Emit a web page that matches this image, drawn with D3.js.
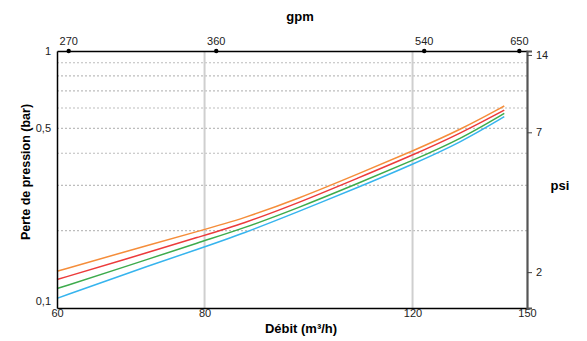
<!DOCTYPE html>
<html>
<head>
<meta charset="utf-8">
<script src="https://cdn.jsdelivr.net/npm/d3@7"></script>
<style>
  body { margin: 0; background: #fff; }
  svg { font-family: "Liberation Sans", Arial, sans-serif; }
</style>
</head>
<body>
<svg width="587" height="341"></svg>
<script>
// debit en m3/h, perte de pression en bar
var flow = [60, 68, 80, 86, 96, 108, 120, 132, 143.5];
var seriesOrange = [0.139, 0.164, 0.202, 0.222, 0.266, 0.333, 0.408, 0.496, 0.611];
var seriesRed    = [0.129, 0.153, 0.192, 0.212, 0.256, 0.321, 0.393, 0.480, 0.589];
var seriesGreen  = [0.119, 0.143, 0.183, 0.203, 0.245, 0.306, 0.375, 0.456, 0.572];
var seriesBlue   = [0.109, 0.134, 0.173, 0.194, 0.237, 0.295, 0.362, 0.442, 0.555];

var xTicks = [60, 80, 120, 150];
var gpmTicks = [270, 360, 540, 650];
var yTicks = [0.1, 0.5, 1];
var yGrid = [0.2, 0.3, 0.4, 0.5, 0.6, 0.7, 0.8, 0.9];
var psiTicks = [2, 7, 14];

var M3H_TO_GPM = 4.4029;
var BAR_TO_PSI = 14.5038;

var svg = d3.select('svg');
var plotL = 57, plotR = 527, plotT = 51, plotB = 308;

var x = d3.scaleLog().domain([60, 150]).range([plotL, plotR]);
var xGpm = d3.scaleLog().domain([60 * M3H_TO_GPM, 150 * M3H_TO_GPM]).range([plotL, plotR]);
var y = d3.scaleLog().domain([0.1, 1]).range([plotB, plotT]);
var yPsi = d3.scaleLog().domain([0.1 * BAR_TO_PSI, BAR_TO_PSI]).range([plotB, plotT]);

// grille horizontale pointillee
svg.append('g').selectAll('line')
    .data(yGrid)
    .enter().append('line')
    .attr('x1', plotL).attr('x2', plotR)
    .attr('y1', d => y(d)).attr('y2', d => y(d))
    .attr('stroke', '#bdbdbd')
    .attr('stroke-width', 1.2)
    .attr('stroke-dasharray', '2,2');

// grille verticale
svg.append('g').selectAll('line')
    .data([80, 120])
    .enter().append('line')
    .attr('x1', d => x(d)).attr('x2', d => x(d))
    .attr('y1', plotT).attr('y2', plotB)
    .attr('stroke', '#cfcfcf')
    .attr('stroke-width', 2);

// courbes
var series = [
    {values: seriesOrange, color: '#f58d3a'},
    {values: seriesRed, color: '#ec3b3b'},
    {values: seriesGreen, color: '#3dab4c'},
    {values: seriesBlue, color: '#36b4ee'}
];

var line = d3.line()
    .x(d => x(d[0]))
    .y(d => y(d[1]))
    .curve(d3.curveBasis);

svg.append('g').selectAll('path')
    .data(series)
    .enter().append('path')
    .attr('d', s => line(flow.map((q, i) => [q, s.values[i]])))
    .attr('fill', 'none')
    .attr('stroke', s => s.color)
    .attr('stroke-width', 1.5);

// axe du bas
var xAxis = svg.append('g')
    .attr('transform', 'translate(0,' + plotB + ')')
    .call(d3.axisBottom(x).tickValues(xTicks).tickFormat(d3.format('d')).tickSize(0).tickPadding(1));
xAxis.select('.domain').attr('stroke', '#000').attr('stroke-width', 1.5);
xAxis.selectAll('text').style('font-size', '11px').attr('fill', '#222');

// axe du haut (gpm)
var topAxis = svg.append('g')
    .attr('transform', 'translate(0,' + plotT + ')')
    .call(d3.axisTop(xGpm).tickValues(gpmTicks).tickFormat(d3.format('d')).tickSize(0).tickPadding(6));
topAxis.select('.domain').attr('stroke', '#000').attr('stroke-width', 1.5);
topAxis.selectAll('text').style('font-size', '11px').attr('fill', '#222');
topAxis.selectAll('.tick').append('circle')
    .attr('r', 2.2)
    .attr('fill', '#000');

// axe de gauche (bar)
var yAxis = svg.append('g')
    .attr('transform', 'translate(' + plotL + ',0)')
    .call(d3.axisLeft(y).tickValues(yTicks).tickFormat(d => String(d).replace('.', ',')).tickSize(0).tickPadding(6));
yAxis.select('.domain').attr('stroke', '#000').attr('stroke-width', 1.5);
yAxis.selectAll('text').style('font-size', '11px').attr('fill', '#222');
yAxis.selectAll('.tick').filter(d => d === 0.1).select('text').attr('dy', '-0.3em');

// axe de droite (psi)
var psiAxis = svg.append('g')
    .attr('transform', 'translate(' + plotR + ',0)')
    .call(d3.axisRight(yPsi).tickValues(psiTicks).tickFormat(d3.format('d')).tickSize(5).tickPadding(4));
psiAxis.select('.domain').attr('stroke', '#555').attr('stroke-width', 2.2);
psiAxis.selectAll('.tick line').attr('stroke', '#444');
psiAxis.selectAll('text').style('font-size', '11px').attr('fill', '#222');

// titres
svg.append('text')
    .attr('x', 300).attr('y', 21)
    .attr('text-anchor', 'middle')
    .style('font-size', '13px').style('font-weight', 'bold')
    .text('gpm');

svg.append('text')
    .attr('x', 560).attr('y', 190)
    .attr('text-anchor', 'middle')
    .style('font-size', '13px').style('font-weight', 'bold')
    .text('psi');

svg.append('text')
    .attr('x', 301).attr('y', 333)
    .attr('text-anchor', 'middle')
    .style('font-size', '13px').style('font-weight', 'bold')
    .text('Débit (m³/h)');

svg.append('text')
    .attr('transform', 'translate(30,172) rotate(-90)')
    .attr('text-anchor', 'middle')
    .style('font-size', '12.5px').style('font-weight', 'bold')
    .text('Perte de pression (bar)');
</script>
</body>
</html>
